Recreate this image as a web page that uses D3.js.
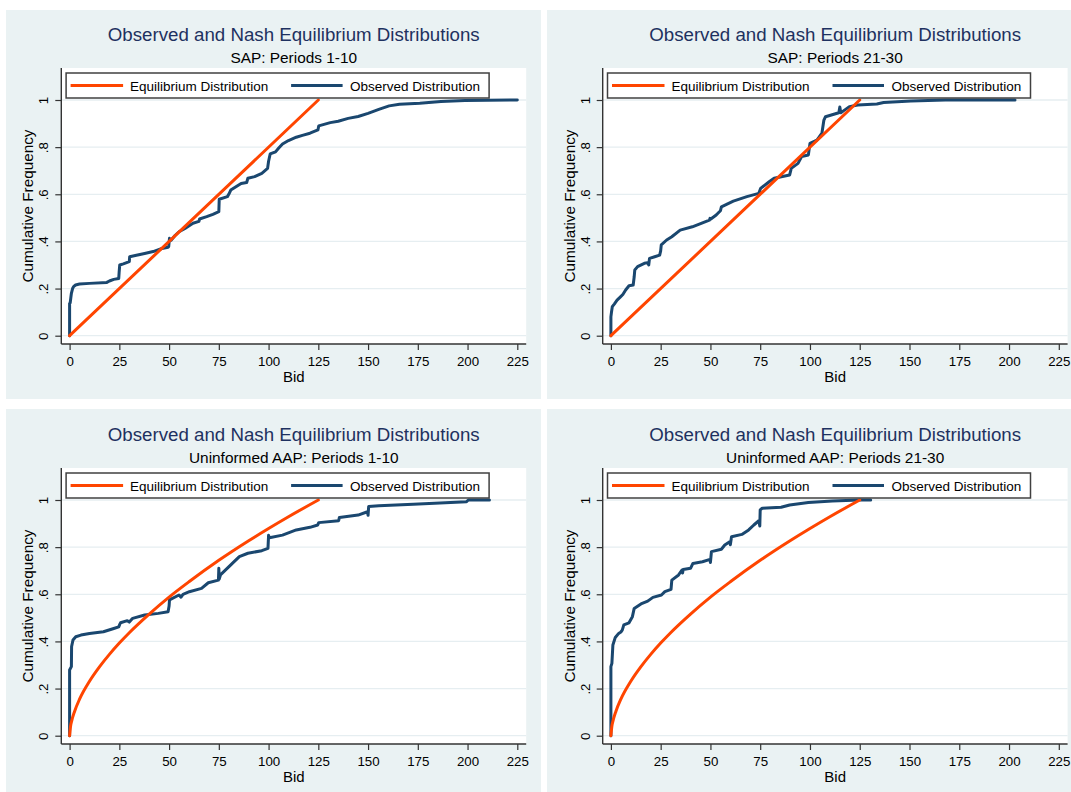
<!DOCTYPE html>
<html><head><meta charset="utf-8">
<script src="https://cdn.jsdelivr.net/npm/d3@7"></script>
<style>body{margin:0;background:#fff}svg{display:block}</style>
</head><body>
<svg id="chart" width="1071" height="792"></svg>
<script>
// ---------- data ----------
const mainTitle = "Observed and Nash Equilibrium Distributions";
const subtitles = ["SAP: Periods 1-10", "SAP: Periods 21-30", "Uninformed AAP: Periods 1-10", "Uninformed AAP: Periods 21-30"];
const legendLabels = ["Equilibrium Distribution", "Observed Distribution"];
const xTicks = [0, 25, 50, 75, 100, 125, 150, 175, 200, 225];
const yTicks = [0, 0.2, 0.4, 0.6, 0.8, 1];
const yTickLabels = ["0", ".2", ".4", ".6", ".8", "1"];
const xTitle = "Bid";
const yTitle = "Cumulative Frequency";

const equilibriumSAP = [[0, 0], [125, 1]];
const equilibriumAAP = [[0,0],[0.5,0.041],[1,0.061],[2.5,0.103],[5,0.155],[10,0.231],[15,0.292],[20,0.345],[25,0.393],[30,0.437],[40,0.516],[50,0.588],[60,0.653],[75,0.744],[90,0.827],[100,0.879],[110,0.929],[125,1.0]];

const observedSAP1to10 = [[0,0],[0,0.137],[0.3,0.14],[0.6,0.16],[0.9,0.18],[1.5,0.2],[2,0.208],[3,0.215],[5,0.219],[10,0.222],[18.7,0.226],[20,0.232],[22.2,0.239],[24.7,0.243],[24.9,0.27],[25.2,0.3],[27,0.305],[30,0.314],[30.2,0.335],[33,0.34],[37.7,0.349],[42,0.357],[46.4,0.37],[49.5,0.375],[49.8,0.378],[50.2,0.413],[51,0.405],[53,0.425],[55,0.441],[58,0.455],[62,0.477],[65,0.485],[65.3,0.495],[68.9,0.505],[72,0.515],[75,0.526],[75.2,0.579],[79.3,0.59],[80,0.6],[81,0.618],[86.2,0.646],[89,0.65],[89.6,0.668],[93,0.675],[96.6,0.689],[99.5,0.71],[100,0.74],[100.8,0.771],[103.5,0.78],[105,0.795],[107,0.813],[110,0.828],[113.9,0.842],[117,0.85],[120.8,0.859],[124.8,0.873],[125.2,0.89],[131,0.904],[135,0.91],[140,0.922],[145,0.93],[150,0.943],[155.4,0.96],[160.6,0.975],[165.8,0.982],[176,0.986],[186.6,0.994],[198.7,0.998],[225,1.0]];

const observedSAP21to30 = [[0,0],[0,0.08],[0.3,0.1],[0.7,0.123],[1.7,0.134],[3.1,0.151],[4.8,0.165],[6,0.175],[7.4,0.194],[9.1,0.212],[11.2,0.215],[11.7,0.25],[12,0.279],[13.4,0.293],[16.8,0.307],[18.5,0.31],[19,0.3],[19.4,0.328],[22,0.335],[24.5,0.342],[25,0.36],[25.3,0.385],[28,0.406],[30.6,0.42],[34.8,0.448],[40.9,0.462],[46,0.479],[49.5,0.49],[49.8,0.498],[50.2,0.495],[52.9,0.512],[55,0.53],[55.5,0.547],[61.5,0.571],[68.3,0.59],[74.3,0.604],[75.2,0.625],[79.5,0.653],[82,0.668],[89.8,0.682],[90.6,0.71],[94,0.731],[95.8,0.76],[99.2,0.767],[100,0.816],[103.5,0.83],[106,0.859],[107,0.915],[107.8,0.929],[114.5,0.946],[115,0.97],[115.5,0.946],[117,0.955],[119.8,0.972],[124,0.979],[133.6,0.983],[137,0.989],[150.7,0.996],[168,1.0],[203,1.0]];

const observedAAP1to10 = [[0,0],[0,0.279],[0.9,0.293],[1,0.378],[1.7,0.406],[3.1,0.42],[5.7,0.427],[10,0.434],[17,0.441],[22.2,0.455],[24.7,0.462],[25.2,0.472],[25.6,0.479],[29,0.488],[30,0.482],[31.7,0.498],[37.7,0.512],[44.6,0.519],[49.5,0.526],[50,0.55],[50.2,0.576],[55,0.597],[56,0.588],[57,0.6],[60.2,0.611],[66.3,0.625],[69.7,0.649],[74.8,0.66],[75,0.71],[75.2,0.665],[75.8,0.682],[80.1,0.717],[85.3,0.76],[89.6,0.774],[96.6,0.785],[99.7,0.795],[100,0.85],[100.4,0.84],[107,0.851],[113.9,0.873],[120.8,0.884],[124.7,0.894],[125.2,0.904],[135.2,0.912],[135.6,0.926],[145,0.936],[149.7,0.95],[150,0.935],[150.3,0.972],[155.4,0.976],[172.7,0.982],[199.5,0.993],[200.4,1.0],[211,1.0]];

const observedAAP21to30 = [[0,0],[0,0.293],[0.5,0.307],[1,0.385],[2.2,0.417],[3.9,0.434],[5,0.44],[5.7,0.448],[6.5,0.47],[9.1,0.479],[10.8,0.505],[11.7,0.54],[15.1,0.559],[18.5,0.571],[21.1,0.587],[25.4,0.597],[27.1,0.611],[30.2,0.621],[30.6,0.66],[34,0.682],[35.7,0.703],[36,0.69],[36.3,0.705],[40,0.71],[41.2,0.731],[46,0.738],[49.8,0.748],[50,0.735],[50.5,0.781],[55.5,0.791],[57.2,0.809],[59.7,0.823],[60,0.81],[60.6,0.844],[65.8,0.854],[69.2,0.873],[71.8,0.894],[74.3,0.912],[74.8,0.89],[75,0.958],[76,0.965],[85.5,0.969],[89.8,0.979],[99.2,0.989],[111.2,0.996],[125,1.0],[130.5,1.0]];

// ---------- styling / layout ----------
const COL = { bg: "#eaf2f3", grid: "#e6eef1", eq: "#ff4500", obs: "#1a476f", title: "#1e3160", axis: "#333333" };
const FONT = "'Liberation Sans', Arial, Helvetica, sans-serif";

const cols = [
  { bgX: 6, bgW: 535, left: 61.3, right: 526.2, x0: 69.6, x225: 517.3 },
  { bgX: 547, bgW: 530, left: 602.7, right: 1067.6, x0: 610.9, x225: 1058.8 }
];
const rows = [
  { bgY: 10, bgH: 389, top: 68, bottom: 344, y0: 335.7, y1: 100 },
  { bgY: 409, bgH: 390, top: 468, bottom: 744, y0: 735.7, y1: 500 }
];
const panels = [
  { c: 0, r: 0, sub: subtitles[0], eq: equilibriumSAP, obs: observedSAP1to10, eqCurve: d3.curveLinear },
  { c: 1, r: 0, sub: subtitles[1], eq: equilibriumSAP, obs: observedSAP21to30, eqCurve: d3.curveLinear },
  { c: 0, r: 1, sub: subtitles[2], eq: equilibriumAAP, obs: observedAAP1to10, eqCurve: d3.curveMonotoneX },
  { c: 1, r: 1, sub: subtitles[3], eq: equilibriumAAP, obs: observedAAP21to30, eqCurve: d3.curveMonotoneX }
];

const svg = d3.select("#chart");

panels.forEach(p => {
  const C = cols[p.c], R = rows[p.r];
  const g = svg.append("g");
  g.append("rect").attr("x", C.bgX).attr("y", R.bgY).attr("width", C.bgW).attr("height", R.bgH).attr("fill", COL.bg);
  g.append("rect").attr("x", C.left).attr("y", R.top).attr("width", C.right - C.left).attr("height", R.bottom - R.top).attr("fill", "#fff");

  const x = d3.scaleLinear().domain([0, 225]).range([C.x0, C.x225]);
  const y = d3.scaleLinear().domain([0, 1]).range([R.y0, R.y1]);
  const cx = (C.left + C.right) / 2, cy = (R.top + R.bottom) / 2;

  // grid
  g.selectAll(".grid").data(yTicks).join("line")
    .attr("x1", C.left).attr("x2", C.right)
    .attr("y1", d => y(d)).attr("y2", d => y(d))
    .attr("stroke", COL.grid).attr("stroke-width", 1.3);

  // titles
  g.append("text").attr("x", cx).attr("y", R.top - 27.5).attr("text-anchor", "middle")
    .attr("font-family", FONT).attr("font-size", 18.7).attr("fill", COL.title).text(mainTitle);
  g.append("text").attr("x", cx).attr("y", R.top - 5).attr("text-anchor", "middle")
    .attr("font-family", FONT).attr("font-size", 15.4).attr("fill", "#000").text(p.sub);

  // axes
  const xa = g.append("g").attr("transform", `translate(0,${R.bottom})`)
    .call(d3.axisBottom(x).tickValues(xTicks).tickSize(6).tickFormat(d3.format("d")));
  xa.select(".domain").remove();
  xa.selectAll(".tick line").attr("stroke", COL.axis).attr("stroke-width", 1.2);
  xa.selectAll(".tick text").attr("y", 21.5).attr("dy", null).attr("fill", "#000")
    .attr("font-family", FONT).attr("font-size", 13.3);

  const ya = g.append("g").attr("transform", `translate(${C.left},0)`)
    .call(d3.axisLeft(y).tickValues(yTicks).tickSize(6).tickFormat((d, i) => yTickLabels[i]));
  ya.select(".domain").remove();
  ya.selectAll(".tick line").attr("stroke", COL.axis).attr("stroke-width", 1.2);
  ya.selectAll(".tick text").attr("x", null).attr("dy", null).attr("text-anchor", "middle")
    .attr("transform", "translate(-13,0) rotate(-90)")
    .attr("fill", "#000").attr("font-family", FONT).attr("font-size", 13.3);

  g.append("line").attr("x1", C.left).attr("x2", C.left).attr("y1", R.top).attr("y2", R.bottom)
    .attr("stroke", COL.axis).attr("stroke-width", 1.4);
  g.append("line").attr("x1", C.left).attr("x2", C.right).attr("y1", R.bottom).attr("y2", R.bottom)
    .attr("stroke", COL.axis).attr("stroke-width", 1.4);

  g.append("text").attr("x", cx).attr("y", R.bottom + 37.7).attr("text-anchor", "middle")
    .attr("font-family", FONT).attr("font-size", 15).attr("fill", "#000").text(xTitle);
  g.append("text").attr("text-anchor", "middle")
    .attr("transform", `translate(${C.left - 28},${cy}) rotate(-90)`)
    .attr("font-family", FONT).attr("font-size", 15.3).attr("fill", "#000").text(yTitle);

  // series
  const line = d3.line().x(d => x(d[0])).y(d => y(d[1]));
  g.append("path").datum(p.obs).attr("d", line.curve(d3.curveLinear))
    .attr("fill", "none").attr("stroke", COL.obs).attr("stroke-width", 3).attr("stroke-linejoin", "round").attr("stroke-linecap", "round");
  g.append("path").datum(p.eq).attr("d", d3.line().x(d => x(d[0])).y(d => y(d[1])).curve(p.eqCurve))
    .attr("fill", "none").attr("stroke", COL.eq).attr("stroke-width", 3).attr("stroke-linecap", "round");

  // legend
  const lx = C.left + 4.8, ly = R.top + 5;
  g.append("rect").attr("x", lx).attr("y", ly).attr("width", 423).attr("height", 25)
    .attr("fill", "#fff").attr("stroke", "#404040").attr("stroke-width", 1.5);
  g.append("line").attr("x1", lx + 4.5).attr("x2", lx + 57).attr("y1", ly + 12.5).attr("y2", ly + 12.5)
    .attr("stroke", COL.eq).attr("stroke-width", 3);
  g.append("text").attr("x", lx + 64).attr("y", ly + 18.3).attr("font-family", FONT).attr("font-size", 13.5)
    .attr("fill", "#000").text(legendLabels[0]);
  g.append("line").attr("x1", lx + 225).attr("x2", lx + 276.5).attr("y1", ly + 12.5).attr("y2", ly + 12.5)
    .attr("stroke", COL.obs).attr("stroke-width", 3);
  g.append("text").attr("x", lx + 284).attr("y", ly + 18.3).attr("font-family", FONT).attr("font-size", 13.5)
    .attr("fill", "#000").text(legendLabels[1]);
});
</script>
</body></html>
